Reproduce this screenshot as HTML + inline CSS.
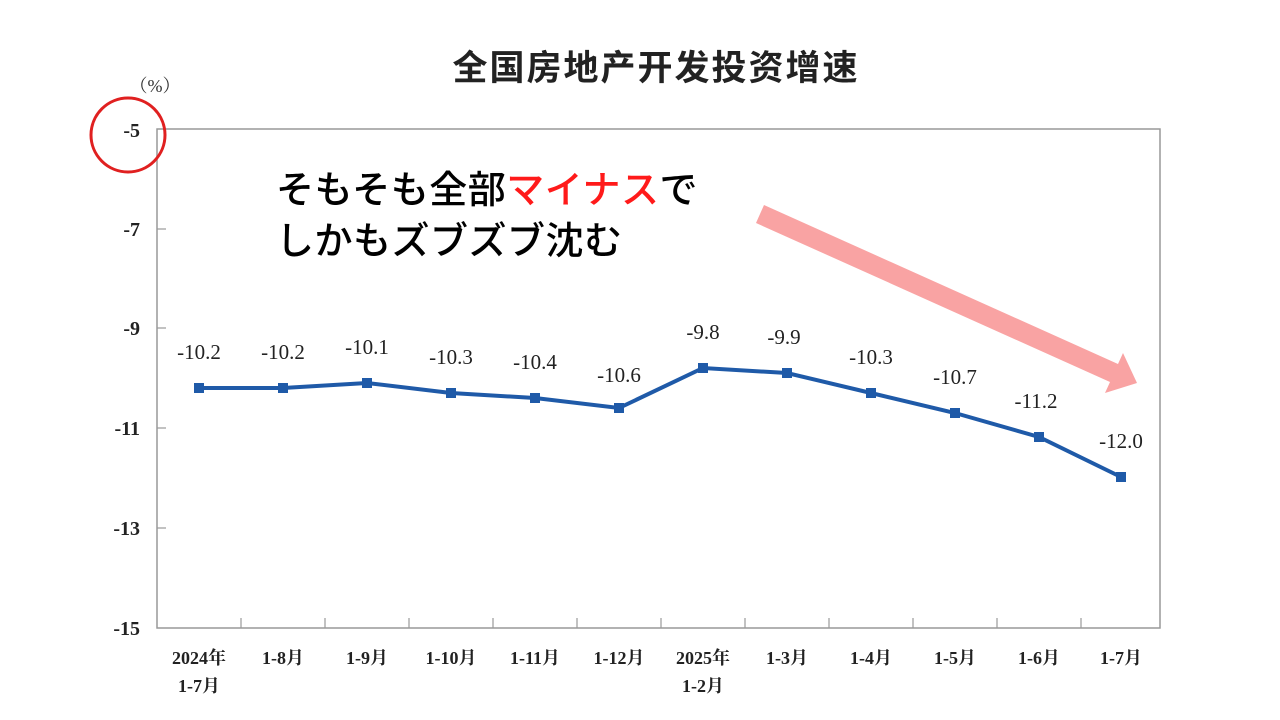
<!DOCTYPE html>
<html><head><meta charset="utf-8"><style>
body{margin:0;background:#fff;}
svg{display:block}
</style></head><body>
<svg width="1280" height="720" xmlns="http://www.w3.org/2000/svg">
<text x="656" y="80" font-family="'Noto Sans CJK SC',sans-serif" font-size="35" font-weight="bold" text-anchor="middle" fill="#222" letter-spacing="2">全国房地产开发投资增速</text>
<text x="155" y="92" font-family="'Liberation Serif','Noto Serif CJK SC',serif" font-size="18" fill="#333" text-anchor="middle">（%）</text>
<rect x="157" y="129" width="1003" height="499" fill="none" stroke="#999" stroke-width="1.5"/>
<g stroke="#999" stroke-width="1.2">
<line x1="157" y1="229" x2="166" y2="229"/><line x1="157" y1="328" x2="166" y2="328"/><line x1="157" y1="428" x2="166" y2="428"/><line x1="157" y1="528" x2="166" y2="528"/>
<line x1="241" y1="618" x2="241" y2="628"/><line x1="325" y1="618" x2="325" y2="628"/><line x1="409" y1="618" x2="409" y2="628"/><line x1="493" y1="618" x2="493" y2="628"/><line x1="577" y1="618" x2="577" y2="628"/><line x1="661" y1="618" x2="661" y2="628"/><line x1="745" y1="618" x2="745" y2="628"/><line x1="829" y1="618" x2="829" y2="628"/><line x1="913" y1="618" x2="913" y2="628"/><line x1="997" y1="618" x2="997" y2="628"/><line x1="1081" y1="618" x2="1081" y2="628"/>
</g>
<g font-family="'Liberation Serif',serif" font-size="20" font-weight="bold" fill="#222" text-anchor="end">
<text x="140" y="137">-5</text><text x="140" y="236">-7</text><text x="140" y="335">-9</text><text x="140" y="435">-11</text><text x="140" y="535">-13</text><text x="140" y="635">-15</text>
</g>
<g font-family="'Liberation Serif','Noto Serif CJK SC',serif" font-size="18" font-weight="bold" fill="#222" text-anchor="middle">
<text x="199" y="664">2024年</text><text x="199" y="692">1-7月</text>
<text x="283" y="664">1-8月</text><text x="367" y="664">1-9月</text><text x="451" y="664">1-10月</text><text x="535" y="664">1-11月</text><text x="619" y="664">1-12月</text>
<text x="703" y="664">2025年</text><text x="703" y="692">1-2月</text>
<text x="787" y="664">1-3月</text><text x="871" y="664">1-4月</text><text x="955" y="664">1-5月</text><text x="1039" y="664">1-6月</text><text x="1121" y="664">1-7月</text>
</g>
<polyline fill="none" stroke="#1f5aa8" stroke-width="4" points="199,388 283,388 367,383 451,393 535,398 619,408 703,368 787,373 871,393 955,413 1039,437 1121,477"/>
<g fill="#1f5aa8">
<rect x="194" y="383" width="10" height="10"/><rect x="278" y="383" width="10" height="10"/><rect x="362" y="378" width="10" height="10"/><rect x="446" y="388" width="10" height="10"/><rect x="530" y="393" width="10" height="10"/><rect x="614" y="403" width="10" height="10"/><rect x="698" y="363" width="10" height="10"/><rect x="782" y="368" width="10" height="10"/><rect x="866" y="388" width="10" height="10"/><rect x="950" y="408" width="10" height="10"/><rect x="1034" y="432" width="10" height="10"/><rect x="1116" y="472" width="10" height="10"/>
</g>
<g font-family="'Liberation Serif',serif" font-size="21" fill="#222" text-anchor="middle">
<text x="199" y="359">-10.2</text><text x="283" y="359">-10.2</text><text x="367" y="354">-10.1</text><text x="451" y="364">-10.3</text><text x="535" y="369">-10.4</text><text x="619" y="382">-10.6</text><text x="703" y="339">-9.8</text><text x="784" y="344">-9.9</text><text x="871" y="364">-10.3</text><text x="955" y="384">-10.7</text><text x="1036" y="408">-11.2</text><text x="1121" y="448">-12.0</text>
</g>
<circle cx="128" cy="135" r="37" fill="none" stroke="#e02020" stroke-width="3"/>
<polygon points="764,205 1118,364 1123,353 1137,383 1105,393 1110,382 756,223" fill="#f9a3a3"/>
<g font-family="'Noto Sans CJK JP',sans-serif" font-size="38" font-weight="500" fill="#000" letter-spacing="0.5">
<text x="276" y="203">そもそも全部<tspan fill="#ff1a1a">マイナス</tspan>で</text>
<text x="276" y="254">しかもズブズブ沈む</text>
</g>
</svg>
</body></html>
